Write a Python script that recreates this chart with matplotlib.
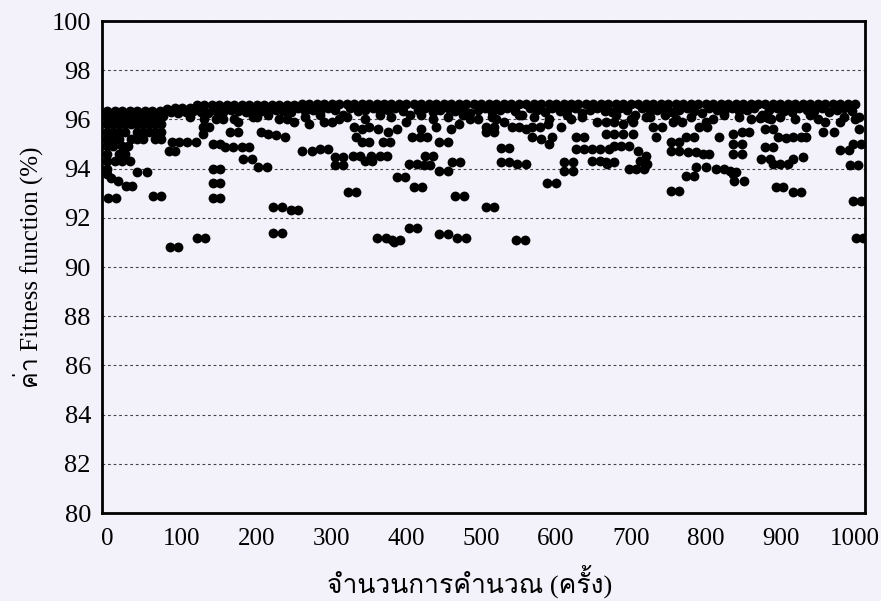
import matplotlib
matplotlib.use("Agg")
import matplotlib.pyplot as plt
from matplotlib import font_manager
from matplotlib.ft2font import FT2Font


def thai_family():
    # first installed family that has Thai glyphs
    for f in font_manager.fontManager.ttflist:
        try:
            if 0x0E04 in FT2Font(f.fname).get_charmap():
                return f.name
        except Exception:
            pass
    return "DejaVu Sans"


THAI = thai_family()
SERIF = "Liberation Serif"

# best-so-far band, one reading every 10 evaluations
top_x = list(range(0, 1001, 10))
top_y = ([96.35] * 8 + [96.42] + [96.48] * 3 + [96.58] * 14 + [96.64] * 75)

# second row just under the band
sec_x = list(range(5, 1000, 10))
sec_y = [96.20, 96.10, 96.20, 96.15, 96.20, 96.10, 96.20, 96.15,
         96.30, 96.25, 96.30, 96.35, 96.30, 96.25, 96.35, 96.30, 96.40, 96.35,
         96.30, 96.40, 96.35, 96.30, 96.40, 96.35, 96.30,
         96.45, 96.35, 96.40, 96.30, 96.45, 96.40, 96.20, 96.45, 96.35, 96.40,
         96.45, 96.30, 96.40, 96.45, 96.35, 96.20, 96.40, 96.45, 96.30, 96.40,
         96.45, 96.35, 96.45, 96.25, 96.40, 96.45, 96.30, 96.40, 96.45, 96.35,
         96.20, 96.45, 96.40, 96.30, 96.45, 96.35, 96.40, 96.45, 96.25, 96.40,
         96.45, 96.35, 96.30, 96.45, 96.40, 96.20, 96.45, 96.35, 96.40, 96.45,
         96.30, 96.40, 96.45, 96.35, 96.25, 96.45, 96.40, 96.30, 96.45, 96.35,
         96.40, 96.45, 96.20, 96.40, 96.45, 96.35, 96.30, 96.45, 96.40, 96.35,
         96.45, 96.30, 96.40, 96.45, 96.35]

# ragged third row under the band
third_x = [110, 130, 150, 175, 195, 215, 240, 265, 285, 300,
           320, 345, 365, 380, 400, 420, 435, 455, 475, 495,
           515, 530, 550, 570, 590, 615, 635, 655, 680, 700,
           725, 745, 760, 780, 800, 825, 845, 860, 880, 900,
           920, 940, 960, 985, 1000]
third_y = [96.1, 96.0, 96.2, 95.9, 96.1, 96.2, 96.0, 96.1, 96.2, 95.9,
           96.1, 96.0, 96.2, 96.1, 95.9, 96.2, 96.0, 96.1, 96.2, 96.0,
           96.1, 95.9, 96.2, 96.1, 96.0, 96.2, 96.1, 95.9, 96.2, 96.0,
           96.1, 96.2, 96.0, 96.1, 95.9, 96.2, 96.1, 96.0, 96.2, 96.1,
           96.0, 96.2, 95.9, 96.1, 96.0]

# scattered evaluations, 0-160
early_x = [0, 8, 16, 24, 32, 40, 48, 56, 64, 72,
           0, 8, 16, 24, 32, 40, 48, 56, 64, 72,
           0, 8, 16, 24, 40, 48, 56, 64, 72,
           0, 8, 16, 32, 40, 48, 64, 72,
           0, 8, 20, 28, 0, 16, 24, 0, 10, 20, 30,
           0, 5, 15, 25, 33, 0,
           40, 53, 1, 12, 61, 72,
           82, 91, 86, 96, 106, 118,
           128, 136, 128, 145, 155, 142, 151,
           142, 151, 142, 151, 142, 151,
           120, 131, 84, 94]
early_y = [96.1, 96.1, 96.1, 96.1, 96.1, 96.1, 96.1, 96.1, 96.1, 96.1,
           95.8, 95.8, 95.8, 95.8, 95.8, 95.8, 95.8, 95.8, 95.8, 95.8,
           95.5, 95.5, 95.5, 95.5, 95.5, 95.5, 95.5, 95.5, 95.5,
           95.2, 95.2, 95.2, 95.2, 95.2, 95.2, 95.2, 95.2,
           94.9, 94.9, 94.9, 94.9, 94.6, 94.6, 94.6, 94.3, 94.3, 94.3, 94.3,
           94.0, 93.6, 93.5, 93.3, 93.3, 93.8,
           93.86, 93.86, 92.79, 92.79, 92.9, 92.9,
           94.7, 94.7, 95.1, 95.1, 95.1, 95.1,
           95.7, 95.7, 95.4, 96.0, 96.0, 95.0, 95.0,
           93.97, 93.97, 93.4, 93.4, 92.8, 92.8,
           91.2, 91.2, 90.83, 90.83]

# scattered evaluations, 160-500
mid_x = [164, 175, 205, 215, 226, 238,
         158, 168, 180, 190, 182, 193,
         202, 214, 261, 274, 285, 295,
         305, 315, 305, 315, 340, 350,
         322, 332, 222, 234, 245, 255,
         222, 234, 352, 170, 250, 270,
         290, 310, 330, 332, 340, 350,
         362, 375, 388, 368, 378, 328,
         338, 345, 354, 364, 374, 388,
         398, 410, 421, 404, 414, 424,
         432, 425, 435, 444, 455, 461,
         472, 465, 477, 404, 414, 361,
         372, 381, 392, 383, 444, 455,
         468, 479, 444, 455, 408, 418,
         428, 420, 440, 460, 470, 485,
         200, 230]
mid_y = [95.5, 95.5, 95.5, 95.4, 95.35, 95.3,
         94.87, 94.87, 94.87, 94.87, 94.4, 94.4,
         94.05, 94.05, 94.7, 94.7, 94.8, 94.8,
         94.46, 94.46, 94.13, 94.13, 95.1, 95.1,
         93.03, 93.03, 92.42, 92.42, 92.3, 92.3,
         91.4, 91.4, 94.5, 96.0, 95.9, 95.8,
         95.9, 96.0, 95.7, 95.3, 95.6, 95.7,
         95.6, 95.5, 95.6, 95.07, 95.07, 94.5,
         94.5, 94.3, 94.3, 94.5, 94.5, 93.64,
         93.64, 93.24, 93.24, 94.2, 94.2, 94.13,
         94.13, 94.5, 94.5, 93.9, 93.9, 94.26,
         94.26, 92.87, 92.87, 91.6, 91.6, 91.2,
         91.2, 91.1, 91.1, 91.0, 91.33, 91.33,
         91.2, 91.2, 95.07, 95.07, 95.3, 95.3,
         95.3, 95.6, 95.7, 95.6, 95.8, 96.0,
         96.1, 96.0]

# scattered evaluations, 500-1010
late_x = [507, 517, 507, 517, 541, 550,
          560, 568, 568, 580, 590, 595,
          527, 537, 527, 537, 548, 560,
          588, 600, 507, 517, 547, 558,
          607, 611, 622, 611, 622, 627,
          638, 627, 638, 648, 659, 671,
          648, 659, 668, 579, 589, 667,
          678, 690, 703, 667, 678, 690,
          703, 678, 687, 698, 667, 677,
          697, 707, 718, 710, 720, 712,
          722, 730, 741, 734, 754, 765,
          754, 765, 774, 785, 777, 787,
          797, 805, 774, 785, 754, 765,
          787, 801, 757, 768, 791, 802,
          814, 824, 832, 837, 818, 837,
          837, 838, 848, 858, 848, 837,
          848, 841, 851, 873, 884, 880,
          890, 880, 890, 874, 886, 890,
          900, 910, 917, 930, 897, 907,
          917, 927, 934, 894, 904, 917,
          928, 934, 957, 971, 980, 991,
          997, 1008, 993, 1004, 997, 1008,
          1001, 1010, 876, 888, 520, 620,
          720, 810, 950, 1005, 1005, 980]
late_y = [95.7, 95.7, 95.5, 95.5, 95.7, 95.7,
          95.6, 95.7, 95.3, 95.2, 95.0, 95.3,
          94.83, 94.83, 94.26, 94.26, 94.2, 94.2,
          93.4, 93.4, 92.46, 92.46, 91.08, 91.08,
          95.7, 94.26, 94.26, 93.9, 93.9, 95.3,
          95.3, 94.8, 94.8, 94.8, 94.8, 94.8,
          94.3, 94.3, 94.2, 95.7, 95.8, 95.9,
          95.9, 95.8, 95.9, 95.4, 95.4, 95.4,
          95.4, 94.9, 94.9, 94.9, 94.26, 94.26,
          94.0, 94.0, 94.0, 94.7, 94.5, 94.3,
          94.2, 95.7, 95.7, 95.3, 94.7, 94.7,
          95.1, 95.1, 95.3, 95.3, 94.66, 94.66,
          94.6, 94.6, 93.7, 93.7, 93.08, 93.08,
          94.05, 94.05, 95.9, 95.9, 95.7, 95.7,
          93.97, 93.97, 93.9, 93.8, 95.3, 95.4,
          94.6, 93.5, 95.5, 95.5, 95.0, 95.0,
          94.6, 93.85, 93.5, 96.05, 96.05, 95.6,
          95.6, 94.87, 94.87, 94.4, 94.4, 94.17,
          94.17, 94.2, 94.4, 94.46, 95.3, 95.25,
          95.3, 95.3, 95.3, 93.24, 93.24, 93.03,
          93.03, 95.7, 95.5, 95.5, 94.75, 94.75,
          95.0, 95.0, 94.13, 94.13, 92.7, 92.7,
          91.2, 91.2, 96.1, 96.0, 96.0, 96.0,
          96.1, 96.0, 96.0, 95.6, 96.1, 95.9]

y_ticks = list(range(80, 101, 2))
x_ticks = list(range(0, 1001, 100))

bg = "#f3f2fb"
fig = plt.figure(figsize=(8.81, 6.01), dpi=100)
fig.patch.set_facecolor(bg)
ax = fig.add_axes([0.1158, 0.1464, 0.866, 0.8186])
ax.set_facecolor(bg)

for xs, ys in [(top_x, top_y), (sec_x, sec_y), (third_x, third_y),
               (early_x, early_y), (mid_x, mid_y), (late_x, late_y)]:
    ax.scatter(xs, ys, s=50, color="black", linewidths=0, zorder=3)

ax.set_xlim(-7, 1013)
ax.set_ylim(80, 100)
ax.set_yticks(y_ticks)
ax.set_xticks(x_ticks)
ax.tick_params(length=0, colors="black")
ax.tick_params(axis="x", pad=11, labelsize=18)
ax.tick_params(axis="y", pad=8, labelsize=19)
for lab in ax.get_xticklabels() + ax.get_yticklabels():
    lab.set_fontfamily(SERIF)

ax.yaxis.grid(True, linestyle=(0, (2.5, 2.5)), color="#444", linewidth=0.8, zorder=1)
ax.set_axisbelow(True)
for sp in ax.spines.values():
    sp.set_linewidth(2)
    sp.set_color("black")

ax.set_xlabel("จำนวนการคำนวณ (ครั้ง)", fontsize=19, family=[SERIF, THAI])
ax.xaxis.set_label_coords(0.482, -0.105)
ax.set_ylabel("ค่า Fitness function (%)", fontsize=18, family=[SERIF, THAI])
ax.yaxis.set_label_coords(-0.078, 0.5)

plt.savefig("out.png", dpi=100, facecolor=bg)
